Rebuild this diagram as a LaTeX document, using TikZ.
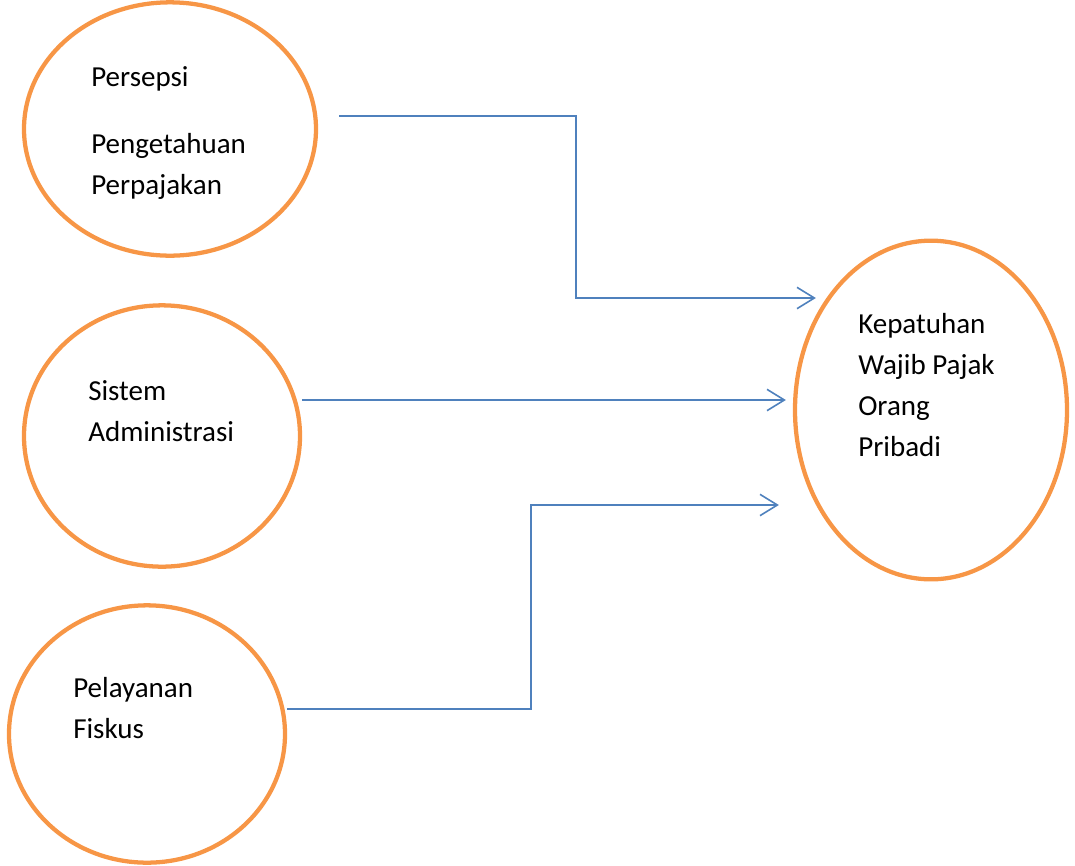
\documentclass[tikz,border=0pt]{standalone}
\usepackage{fontspec}
\setmainfont{Carlito}
\usetikzlibrary{shapes.geometric,arrows.meta,calc}
\definecolor{varorange}{HTML}{F79646}
\definecolor{linkblue}{HTML}{4F81BD}
\begin{document}
\begin{tikzpicture}[x=0.75pt,y=-0.75pt]
	\tikzstyle{var}=[ellipse,draw=varorange,line width=3.2pt,inner sep=0pt]
	\tikzstyle{label}=[anchor=west,align=left,inner sep=0pt,font=\fontsize{21.75}{30.75}\selectfont]
	\tikzstyle{link}=[draw=linkblue,line width=1.2pt,-{Straight Barb[length=13pt,width=16pt,line width=1.2pt]}]
	\useasboundingbox (0,0) rectangle (1075,865);
	% variables
	\node[var,minimum width=219pt,minimum height=190pt](persepsi) at (170,129) {};
	\node[var,minimum width=207pt,minimum height=196pt](sistem) at (162,436) {};
	\node[var,minimum width=207pt,minimum height=193pt](pelayanan) at (147,734) {};
	\node[var,minimum width=204pt,minimum height=254pt](kepatuhan) at (931,410) {};
	% texts
	\node[label](t1) at (91,79) {Persepsi};
	\node[label](t2) at (91,166) {Pengetahuan\\Perpajakan};
	\node[label](t3) at (88,411) {Sistem\\Administrasi};
	\node[label](t4) at (73,708) {Pelayanan\\Fiskus};
	\node[label](t5) at (858,385) {Kepatuhan\\Wajib Pajak\\Orang\\Pribadi};
	% connectors
	\coordinate (a1) at ($(persepsi.east)+(21,-13)$);
	\coordinate (b1) at ($(kepatuhan.west)+(23,-112)$);
	\coordinate (a2) at ($(sistem.east)+(0,-36)$);
	\coordinate (b2) at ($(kepatuhan.west)+(-7,-10)$);
	\coordinate (a3) at ($(pelayanan.east)+(0,-25)$);
	\coordinate (b3) at ($(kepatuhan.west)+(-14,95)$);
	\draw[link](a1) -- (576,116) -- (576,298) -- (b1);
	\draw[link](a2) -- (b2);
	\draw[link](a3) -- (531,709) -- (531,505) -- (b3);
\end{tikzpicture}
\end{document}
